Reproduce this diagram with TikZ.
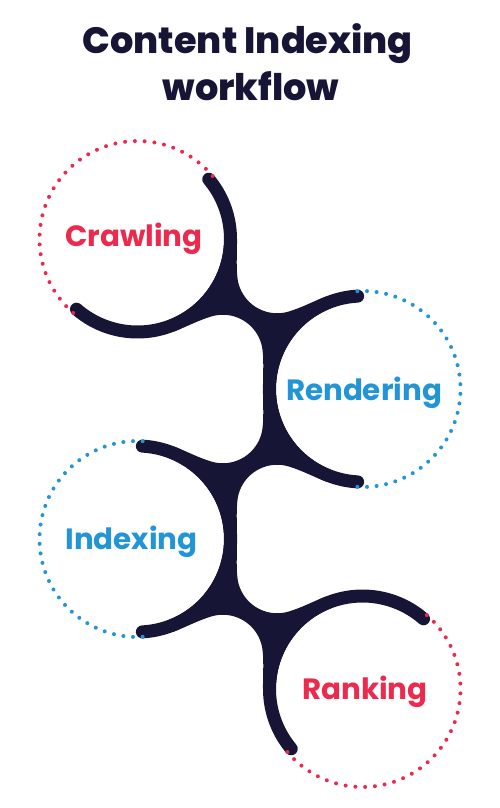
\documentclass[tikz,border=0pt]{standalone}
\usepackage{fontspec}
\setmainfont{Poppins}
\newfontfamily\titlefont{Poppins ExtraBold}
\usetikzlibrary{calc}
\definecolor{navy}{HTML}{161535}
\definecolor{pinkred}{HTML}{EC2A4E}
\definecolor{skyblue}{HTML}{2295D6}
\begin{document}
\begin{tikzpicture}[x=0.75pt,y=-0.75pt,
  darkarc/.style={draw=navy,line width=9.75pt,line cap=round},
  lbl/.style={font=\bfseries\fontsize{22}{26}\selectfont,anchor=base,inner sep=0pt},
  ttl/.style={font=\titlefont\fontsize{27.5}{32}\selectfont,text=navy,anchor=base,inner sep=0pt},
  dotmark/.style={radius=1.5pt}]
\useasboundingbox (0,0) rectangle (500,808);
\coordinate (C1) at (137.5,239);
\coordinate (C2) at (362.5,389);
\coordinate (C3) at (137.5,539);
\coordinate (C4) at (362.5,689);
% junction fills
\foreach \mx/\my/\rot in {250/314/-33.69, 250/464/33.69, 250/614/-33.69} {
  \begin{scope}[shift={(\mx,\my)},rotate=\rot]
    \fill[navy] (-135.2,0) -- (-53.7,-57.07)
      .. controls (-46.24,-46.42) and (-39.0,-33.25) .. (-30.64,-23.29)
      -- plot[domain=140:40,samples=40] ({40*cos(\x)},{-49+40*sin(\x)})
      .. controls (39.0,-33.25) and (46.24,-46.42) .. (53.7,-57.07)
      -- (135.2,0) -- (53.7,57.07)
      .. controls (46.24,46.42) and (39.0,33.25) .. (30.64,23.29)
      -- plot[domain=-40:-140,samples=40] ({40*cos(\x)},{49+40*sin(\x)})
      .. controls (-39.0,33.25) and (-46.24,46.42) .. (-53.7,57.07) -- cycle;
  \end{scope}
}
% white interiors
\foreach \c in {C1,C2,C3,C4} \fill[white] (\c) circle[radius=64.875pt];
% dark arcs
\draw[darkarc] plot[domain=-40:131,samples=90] ({137.5+93*cos(\x)},{239+93*sin(\x)});
\draw[darkarc] plot[domain=93:267,samples=90] ({362.5+93*cos(\x)},{389+93*sin(\x)});
\draw[darkarc] plot[domain=-87:87,samples=90] ({137.5+93*cos(\x)},{539+93*sin(\x)});
\draw[darkarc] plot[domain=140:311,samples=90] ({362.5+93*cos(\x)},{689+93*sin(\x)});
% dotted arcs
\foreach \i in {0,...,33} \fill[pinkred] ($(C1)+({131+\i*189/33}:98)$) circle[dotmark];
\foreach \i in {0,...,33} \fill[skyblue] ($(C2)+({-93+\i*186/33}:98)$) circle[dotmark];
\foreach \i in {0,...,33} \fill[skyblue] ($(C3)+({87+\i*186/33}:98)$) circle[dotmark];
\foreach \i in {0,...,33} \fill[pinkred] ($(C4)+({-49+\i*189/33}:98)$) circle[dotmark];
% labels
\node[lbl,text=pinkred] (crawl) at (134,246.7) {Crawling};
\node[lbl,text=skyblue] (render) at (364,400.7) {Rendering};
\node[lbl,text=skyblue] (index) at (131.5,549) {Indexing};
\node[lbl,text=pinkred] (rank) at (365,699.3) {Ranking};
% title
\node[ttl] (title1) at (247.8,53.3) {Content Indexing};
\node[ttl] (title2) at (251,100.5) {workflow};
\end{tikzpicture}
\end{document}
